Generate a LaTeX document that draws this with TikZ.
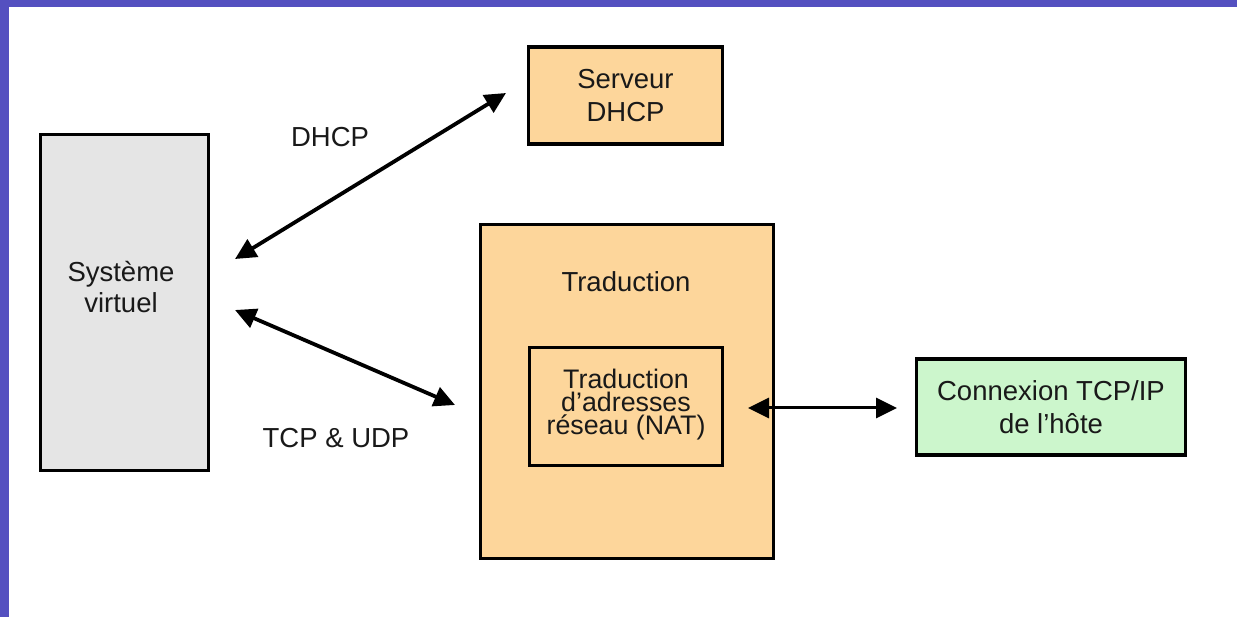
\documentclass[tikz,border=0pt]{standalone}
\usepackage{fontspec}
\setmainfont{Liberation Sans}
\usetikzlibrary{arrows.meta}
\definecolor{band}{RGB}{84,80,192}
\definecolor{peach}{RGB}{253,214,155}
\definecolor{lgray}{RGB}{229,229,229}
\definecolor{lgreen}{RGB}{204,246,204}
\definecolor{ink}{RGB}{25,25,25}
\begin{document}
\begin{tikzpicture}[x=1pt,y=-1pt,
  box/.style={draw=black,line width=3.5pt,inner sep=0pt,align=center,text=ink,
    font=\fontsize{27.5}{33}\selectfont},
  lbl/.style={inner sep=0pt,anchor=base,text=ink,font=\fontsize{27.5}{33}\selectfont},
  dbl/.style={line width=3.8pt,{Triangle[length=21pt,width=20pt]}-{Triangle[length=21pt,width=20pt]}}]
\useasboundingbox (0,0) rectangle (1237,617);
\fill[white] (0,0) rectangle (1237,617);
\fill[band] (0,0) rectangle (1237,7);
\fill[band] (0,0) rectangle (9,617);
% boxes
\node[box,fill=lgray,minimum width=168pt,minimum height=336pt] (sys) at (124.5,302.5) {};
\node[lbl,align=center,font=\fontsize{27.5}{31}\selectfont] (systxt) at (121,313) {Système\\virtuel};
\node[box,fill=peach,minimum width=194pt,minimum height=97pt] (dhcp) at (625.5,95.5) {Serveur\\DHCP};
\node[box,fill=peach,minimum width=293pt,minimum height=334pt] (trad) at (627,391.5) {};
\node[lbl] (tradtxt) at (626,292) {Traduction};
\node[box,fill=peach,minimum width=193pt,minimum height=118pt] (nat) at (626,406.5) {};
\node[lbl,align=center,font=\fontsize{26.8}{23}\selectfont] (nattxt) at (626,435) {Traduction\\d’adresses\\réseau (NAT)};
\node[box,fill=lgreen,minimum width=269pt,minimum height=96pt] (host) at (1051,407) {Connexion TCP/IP\\de l’hôte};
% labels
\node[lbl] (ldhcp) at (330,147) {DHCP};
\node[lbl] (ltcp) at (336,447) {TCP \& UDP};
% arrow ends
\coordinate (a1) at (235,259);
\coordinate (a2) at (506,93);
\coordinate (b1) at (235,310);
\coordinate (b2) at (455,405);
\coordinate (c1) at (748,408);
\coordinate (c2) at (897,408);
\draw[dbl] (a1) -- (a2);
\draw[dbl] (b1) -- (b2);
\draw[dbl,line width=3pt] (c1) -- (c2);
\end{tikzpicture}
\end{document}
